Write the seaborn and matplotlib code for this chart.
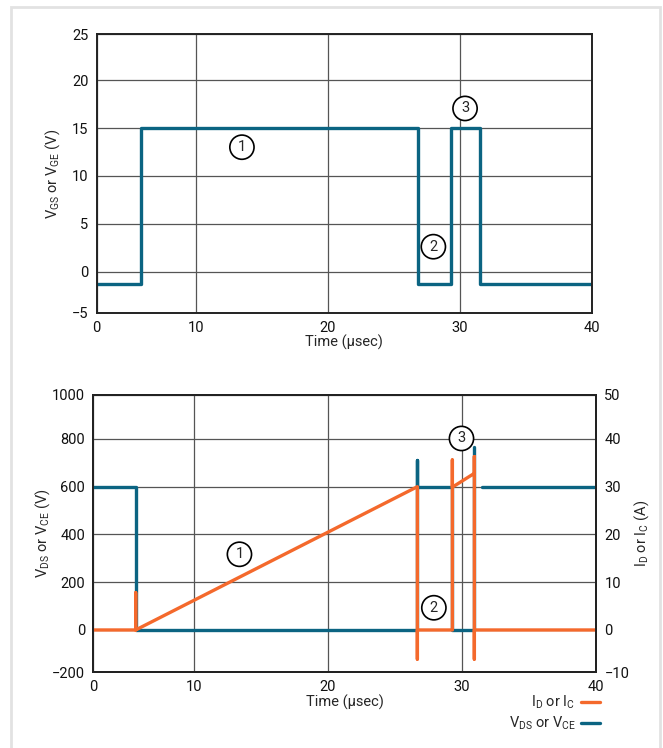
import pandas as pd
import matplotlib
matplotlib.use('Agg')
import matplotlib.pyplot as plt
from matplotlib.patches import Rectangle
import seaborn as sns

# gate drive (top panel), time in µs, volts
gate_t = [2.5, 5.88, 5.88, 26.85, 26.85, 29.36, 29.36, 31.5, 31.5, 40]
gate_v = [-1.3, -1.3, 15, 15, -1.3, -1.3, 15, 15, -1.3, -1.3]

# drain/collector voltage (bottom panel, left axis); seg splits the small gap after the last spike
vds_t = [2.5, 5.66, 5.66, 26.67, 26.67, 26.67, 29.28, 29.28, 30.92, 30.92, 31.47, 40]
vds_v = [600, 600, 0, 0, 711, 600, 600, 0, 0, 767, 600, 600]
vds_seg = [0, 0, 0, 0, 0, 0, 0, 0, 0, 0, 1, 1]

# drain/collector current (bottom panel, right axis), amps
id_t = [2.5, 5.66, 5.66, 5.66, 26.67, 26.67, 26.67, 29.28, 29.28, 29.28, 30.92, 30.92, 30.92, 30.92, 40]
id_a = [0, 0, 7.8, 0, 30, -6.1, 0, 0, 35.6, 29.9, 32.8, 36.3, -6.1, 0, 0]

# circled step numbers
top_marks = ['1', '2', '3']
top_mark_t = [13.5, 28.0, 30.4]
top_mark_v = [13.0, 2.6, 17.05]
bot_mark_t = [13.4, 27.9, 29.96]
bot_mark_v = [317, 93, 802]

# tick labels (the drawing's outer gridlines sit a bit inside the nominal values)
x_ticks = [2.5, 10, 20, 30, 40]
x_labels = ['0', '10', '20', '30', '40']
top_y_ticks = [-4.3, 0, 5, 10, 15, 20, 24.8]
top_y_labels = ['\u22125', '0', '5', '10', '15', '20', '25']
bot_y_ticks = [-176, 0, 200, 400, 600, 800, 984]
bot_y_labels = ['\u2212200', '0', '200', '400', '600', '800', '1000']
right_y_ticks = [-8.8, 0, 10, 20, 30, 40, 49.2]
right_y_labels = ['\u221210', '0', '10', '20', '30', '40', '50']

BLUE = '#0b6482'
ORANGE = '#f4692c'

sns.set_style('white')
plt.rcParams['font.family'] = ['Roboto', 'DejaVu Sans']
plt.rcParams['mathtext.fontset'] = 'custom'
plt.rcParams['mathtext.rm'] = 'Roboto'
plt.rcParams['mathtext.it'] = 'Roboto'
plt.rcParams['font.size'] = 10.5

gate = pd.DataFrame({'t': gate_t, 'v': gate_v})
vds = pd.DataFrame({'t': vds_t, 'v': vds_v, 'seg': vds_seg})
cur = pd.DataFrame({'t': id_t, 'a': id_a})

fig = plt.figure(figsize=(6.63, 7.48), dpi=100)
fig.add_artist(Rectangle((11 / 663, -0.1), 649 / 663, 0.1 + 741 / 748, transform=fig.transFigure,
                         fill=False, ec='#e2e2e2', lw=2))

ax1 = fig.add_axes([96.7 / 663, 1 - 312.7 / 748, 495.1 / 663, 278.4 / 748])
ax2 = fig.add_axes([93.3 / 663, 1 - 672 / 748, 502.8 / 663, 277 / 748])
ax3 = ax2.twinx()


def style(ax, yt, yl):
    ax.set_xlim(2.5, 40)
    ax.set_xticks(x_ticks)
    ax.set_xticklabels(x_labels)
    ax.set_ylim(yt[0], yt[-1])
    ax.set_yticks(yt)
    ax.set_yticklabels(yl)
    ax.grid(True, color='#555555', lw=0.9)
    ax.tick_params(length=0, pad=6, labelsize=10.5, colors='#111111')
    for s in ax.spines.values():
        s.set_color('#222222')
        s.set_linewidth(1.4)
    ax.set_xlabel('Time (\u00b5sec)', fontsize=10.5, labelpad=0)


def circled(ax, labels, xs, ys):
    for lab, x, y in zip(labels, xs, ys):
        ax.text(x, y, lab, ha='center', va='center', fontsize=10.5, zorder=10,
                bbox=dict(boxstyle='circle,pad=0.35', fc='white', ec='black', lw=1.2))


# top panel
sns.lineplot(data=gate, x='t', y='v', sort=False, estimator=None, color=BLUE, lw=2.4, ax=ax1)
style(ax1, top_y_ticks, top_y_labels)
ax1.set_ylabel(r'V$_{\mathrm{GS}}$ or V$_{\mathrm{GE}}$ (V)', fontsize=10.5, labelpad=7)
circled(ax1, top_marks, top_mark_t, top_mark_v)

# bottom panel
sns.lineplot(data=vds, x='t', y='v', units='seg', sort=False, estimator=None, color=BLUE, lw=2.4,
             ax=ax2, label=r'V$_{\mathrm{DS}}$ or V$_{\mathrm{CE}}$')
sns.lineplot(data=cur, x='t', y='a', sort=False, estimator=None, color=ORANGE, lw=2.4,
             ax=ax3, label=r'I$_{\mathrm{D}}$ or I$_{\mathrm{C}}$')
style(ax2, bot_y_ticks, bot_y_labels)
ax2.set_ylabel(r'V$_{\mathrm{DS}}$ or V$_{\mathrm{CE}}$ (V)', fontsize=10.5, labelpad=0)
ax3.set_ylim(right_y_ticks[0], right_y_ticks[-1])
ax3.set_yticks(right_y_ticks)
ax3.set_yticklabels(right_y_labels)
ax3.tick_params(length=0, pad=6, labelsize=10.5, colors='#111111')
ax3.grid(False)
for s in ax3.spines.values():
    s.set_color('#222222')
    s.set_linewidth(1.4)
ax3.set_ylabel(r'I$_{\mathrm{D}}$ or I$_{\mathrm{C}}$ (A)', fontsize=10.5, labelpad=2)
circled(ax3, top_marks, bot_mark_t, [v / 20 for v in bot_mark_v])

h3, l3 = ax3.get_legend_handles_labels()
h2, l2 = ax2.get_legend_handles_labels()
for a in (ax2, ax3):
    if a.get_legend() is not None:
        a.get_legend().remove()
fig.legend(h3[:1] + h2[:1], l3[:1] + l2[:1], loc='upper right', bbox_to_anchor=(606 / 663, 1 - 688 / 748),
           frameon=False, markerfirst=False, handlelength=1.3, handletextpad=0.4,
           labelspacing=0.25, fontsize=10.5, borderaxespad=0)

fig.savefig('out.png', dpi=100)
